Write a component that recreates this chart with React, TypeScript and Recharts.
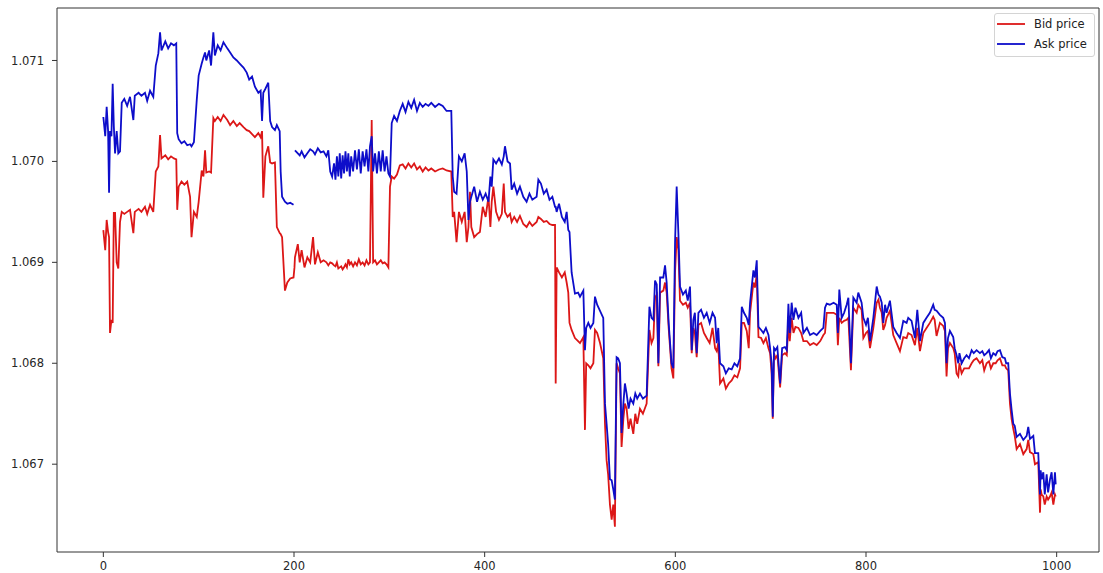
import { LineChart, Line, XAxis, YAxis, Legend, ReferenceLine } from 'recharts';

// tick index of each quote
const tickIndex = [
  0, 2, 3.5, 5, 6, 7, 8.5, 9.8, 11, 12.3,
  14, 15.7, 17.5, 19.3, 22, 25, 28, 31.5, 33, 37,
  40, 43.7, 46, 49, 52.4, 55, 57.7, 59.5, 61, 65,
  68, 71, 74, 76.5, 77.5, 79, 82, 85, 88, 91,
  92.5, 95, 98, 100, 103.2, 105, 106.7, 108, 111, 113,
  115.4, 117, 120, 123, 126, 130, 133, 136.4, 140, 143,
  147, 150.4, 153, 156, 159, 162.6, 165, 166.5, 167.8, 170,
  173, 175, 177, 180, 182, 185, 186, 187.5, 190.5, 193,
  196, 199.5, 200.5,
  201, 204, 206, 208, 211, 214, 217, 220, 222, 225,
  228, 231, 234, 236, 238, 240, 242, 243.5, 245, 246.5,
  248, 249.5, 251, 252.5, 254, 255.5, 257, 258.5, 260, 262,
  264, 266, 268, 270, 272, 274, 276, 278, 279.7, 281.5,
  283, 285, 287, 289, 291, 293, 295, 297, 299, 300.7,
  302.5, 305, 308, 311, 314, 317, 320, 323, 326, 329,
  332, 335, 338, 341, 344, 348, 352, 356, 360, 365,
  366.5, 368, 370.5, 373, 376, 379, 381.2, 383, 384.6,
  386, 389, 392, 395, 398, 401, 404, 406, 407.4, 409.1,
  412, 415, 418, 420, 421.3, 424, 426.6, 428.3, 431, 434,
  437, 440.5, 444, 447, 450, 454.5, 456.3, 459, 462, 465,
  468, 471, 473.8, 474.5, 475.5, 478, 481, 484, 486, 487.7,
  489, 491.2, 494.7, 498, 500, 503.5, 505.2, 506.5, 508.7, 511,
  514, 515.7, 518, 521, 524.4, 526.2, 527.9, 529.5, 531.4, 533.2,
  534.9, 536.6, 538.4, 540, 541.9, 543.6, 545.5, 547.1, 548.9, 551,
  553, 555.9, 558, 560, 562.9, 566, 569.9,
  572.8, 575, 577, 578.7, 580.5, 582.2, 584, 587.4, 589.2, 590.9,
  593, 596, 597.9, 599.7, 601.4, 603.2, 604.9, 608, 611, 613,
  615.4, 617.2, 618.9, 620.5, 622.4, 624.2, 627, 630, 632.9, 636,
  639, 641.7, 643.4, 645, 646.9, 650.4, 653, 656, 659.1, 662,
  665, 667.9, 669.7, 672, 674.9, 677, 678.4, 681.9, 683.5, 685.4,
  687.2, 690, 692.4, 695, 697.7, 699.4, 701, 702.2, 703.5, 705,
  707, 709.9, 712, 715, 716.9, 718.6, 720, 722, 723.9, 726,
  729.1, 732, 734.3, 738, 741.3, 745, 748.3, 752, 755.3, 757,
  758.8, 762, 766, 769.3, 770.5,
  772, 774.5, 777, 779.7, 781.5, 784.2, 786.7, 790.2, 791.9, 795.4,
  797.2, 800, 802, 804.2, 807.7, 811.2, 813, 814.6, 816.5, 818.1,
  820, 821.6, 825.1, 828.6, 832.1, 835.6, 839.1, 842.6, 844.3, 847.8,
  851.3, 853.8, 856.6, 860.1, 863.5, 867, 870.5, 872, 874, 877.5,
  881, 882.8, 884.5, 886, 888, 891.5, 893, 895, 896.8, 898,
  900.3, 903, 905.5, 908, 910.8, 913, 916, 919.5, 922, 924,
  926.5, 929, 931, 933.5, 936, 938, 940.5, 943, 945.7, 947,
  949.2, 951, 952.7, 954.5, 956, 958, 961.5, 965, 968.5, 970.2,
  972, 975.5, 977.2, 980.7, 982.5, 983.2, 984.2, 986, 987.5, 989.5,
  991, 993, 994.7, 996.5, 998.2, 999,
];

// ask quotes (null = no quote, breaks the line)
const askPrice: (number | null)[] = [
  1.07044, 1.07025, 1.07054, 1.0703, 1.06969, 1.0703, 1.07025, 1.07077, 1.07035, 1.07008,
  1.0703, 1.07008, 1.0701, 1.07058, 1.07062, 1.07055, 1.07064, 1.07041, 1.07065, 1.07068,
  1.07065, 1.07068, 1.0706, 1.0707, 1.07064, 1.07095, 1.07107, 1.07128, 1.0711, 1.07119,
  1.07112, 1.07117, 1.07115, 1.07117, 1.07028, 1.07022, 1.07018, 1.0702, 1.07016, 1.07017,
  1.07015, 1.07019, 1.07061, 1.07085, 1.07097, 1.07103, 1.07108, 1.071, 1.0711, 1.07095,
  1.07128, 1.07105, 1.07115, 1.0711, 1.07118, 1.07112, 1.07108, 1.07103, 1.071, 1.07097,
  1.07093, 1.07088, 1.07081, 1.07084, 1.07074, 1.07068, 1.0707, 1.0704, 1.07068, 1.07072,
  1.07078, 1.0704, 1.07034, 1.07031, 1.07036, 1.0703, 1.0699, 1.06965, 1.0696, 1.06958,
  1.06959, 1.06957, null,
  1.07011, 1.07008, 1.07006, 1.0701, 1.07004, 1.07008, 1.07012, 1.0701, 1.07007, 1.07013,
  1.07009, 1.0701, 1.07005, 1.07011, 1.0699, 1.06985, 1.06998, 1.06982, 1.07005, 1.06985,
  1.07008, 1.06983, 1.07006, 1.06988, 1.0701, 1.0699, 1.07008, 1.06985, 1.07005, 1.0699,
  1.07011, 1.06992, 1.07012, 1.06988, 1.0701, 1.06995, 1.07012, 1.0699, 1.07015, 1.07025,
  1.0699, 1.07008, 1.06988, 1.0701, 1.0699, 1.07011, 1.0699, 1.07005, 1.06988, 1.06985,
  1.07038, 1.07045, 1.0704, 1.0705, 1.07057, 1.07049, 1.07059, 1.07053, 1.07061, 1.0705,
  1.07058, 1.07054, 1.07057, 1.07055, 1.07058, 1.07054, 1.07057, 1.07055, 1.0705, 1.0705,
  1.06985, 1.0697, 1.06968, 1.07005, 1.07, 1.07008, 1.0699, 1.06942, 1.0696,
  1.06965, 1.06975, 1.0696, 1.0697, 1.06962, 1.06968, 1.0696, 1.06985, 1.06975, 1.07002,
  1.06998, 1.07003, 1.06997, 1.07005, 1.07015, 1.07, 1.06998, 1.06972, 1.06978, 1.06968,
  1.06975, 1.06965, 1.0696, 1.06968, 1.06962, 1.06965, 1.06982, 1.06978, 1.06968, 1.06972,
  1.06962, 1.06965, 1.06955, 1.06955, 1.0695, 1.06958, 1.06945, 1.0694, 1.0695, 1.06932,
  1.0693, 1.0689, 1.06869, 1.0687, 1.06866, 1.06872, 1.06813, 1.06835, 1.0684, 1.06835,
  1.0684, 1.06866, 1.06858, 1.06852, 1.06845, 1.0676, 1.0674, 1.0672, 1.06685, 1.06684,
  1.06675, 1.06665, 1.06806, 1.06805, 1.068, 1.06731, 1.0676, 1.0678, 1.0677, 1.06755,
  1.06765, 1.0676, 1.0677, 1.06765, 1.0677, 1.06765, 1.06768,
  1.06856, 1.06845, 1.06843, 1.06882, 1.06878, 1.068, 1.06885, 1.06885, 1.06897, 1.0688,
  1.0684, 1.068, 1.06795, 1.0692, 1.06975, 1.06929, 1.06876, 1.06868, 1.06872, 1.06862,
  1.06876, 1.06813, 1.06843, 1.0685, 1.0681, 1.0685, 1.06853, 1.06845, 1.0685, 1.0684,
  1.0685, 1.06845, 1.0682, 1.06835, 1.068, 1.06797, 1.0679, 1.06795, 1.06794, 1.068,
  1.06797, 1.06805, 1.06856, 1.0685, 1.06845, 1.06838, 1.0686, 1.06892, 1.06885, 1.06902,
  1.06836, 1.06833, 1.0683, 1.06835, 1.06828, 1.06815, 1.068, 1.06747, 1.06815, 1.06813,
  1.06816, 1.0678, 1.06815, 1.06816, 1.06813, 1.06859, 1.0683, 1.0686, 1.06843, 1.06855,
  1.06845, 1.0685, 1.0683, 1.06835, 1.06828, 1.0683, 1.06828, 1.06832, 1.06835, 1.06855,
  1.06859, 1.06858, 1.0686, 1.06858, 1.0683,
  1.06873, 1.06845, 1.0685, 1.06858, 1.06865, 1.068, 1.06865, 1.0686, 1.0687, 1.0686,
  1.06845, 1.06838, 1.06845, 1.06822, 1.06845, 1.06876, 1.06868, 1.06866, 1.0686, 1.0684,
  1.06858, 1.0685, 1.06862, 1.06836, 1.0683, 1.06825, 1.06842, 1.0684, 1.06845, 1.06842,
  1.06825, 1.06853, 1.06822, 1.0684, 1.06845, 1.0685, 1.06858, 1.06853, 1.06852, 1.06848,
  1.06845, 1.0684, 1.068, 1.06825, 1.06832, 1.06826, 1.06815, 1.06808, 1.068, 1.0681,
  1.068, 1.06805, 1.06808, 1.06805, 1.06813, 1.0681, 1.06813, 1.0681, 1.06812, 1.06808,
  1.0681, 1.06813, 1.06805, 1.0681, 1.06808, 1.06812, 1.06813, 1.06806, 1.06805, 1.068,
  1.068, 1.0677, 1.06754, 1.0674, 1.06738, 1.06727, 1.0673, 1.06724, 1.06728, 1.06737,
  1.06725, 1.06728, 1.06711, 1.06711, 1.0667, 1.06694, 1.06685, 1.06692, 1.0667, 1.0669,
  1.06672, 1.06685, 1.06692, 1.0667, 1.06692, 1.0668,
];

// bid quotes
const bidPrice = [
  1.06932, 1.06912, 1.06942, 1.0693, 1.06925, 1.0683, 1.06843, 1.0684, 1.06949, 1.06949,
  1.069, 1.06894, 1.0694, 1.0695, 1.06948, 1.0695, 1.06952, 1.06929, 1.0695, 1.06953,
  1.0695, 1.06955, 1.06948, 1.06957, 1.0695, 1.0699, 1.06995, 1.07026, 1.07003, 1.07006,
  1.07002, 1.07005, 1.07003, 1.07002, 1.06952, 1.06975, 1.0698, 1.06977, 1.0698, 1.06965,
  1.06925, 1.0695, 1.06945, 1.0696, 1.06991, 1.06985, 1.07011, 1.06989, 1.0699, 1.06989,
  1.07043, 1.0704, 1.07044, 1.0704, 1.07046, 1.07041, 1.07036, 1.0704, 1.07035, 1.07038,
  1.07034, 1.07031, 1.0703, 1.07027, 1.07024, 1.07028, 1.07024, 1.0703, 1.06964, 1.07005,
  1.07015, 1.06999, 1.06998, 1.06999, 1.06935, 1.06929, 1.06928, 1.06925, 1.06872, 1.0688,
  1.06884, 1.06885, 1.06895,
  1.06905, 1.06918, 1.069, 1.06912, 1.06895, 1.06905, 1.069, 1.06925, 1.06898, 1.0691,
  1.069, 1.06902, 1.069, 1.06897, 1.069, 1.06899, 1.06897, 1.06896, 1.069, 1.06894,
  1.06895, 1.06896, 1.06893, 1.06895, 1.06898, 1.06895, 1.06903, 1.06898, 1.069, 1.06896,
  1.069, 1.06897, 1.06903, 1.06898, 1.069, 1.06897, 1.06902, 1.06898, 1.069, 1.07041,
  1.069, 1.06902, 1.06898, 1.069, 1.06902, 1.06899, 1.069, 1.06898, 1.06895, 1.06975,
  1.06985, 1.06983, 1.06987, 1.06996, 1.06997, 1.06993, 1.06998, 1.06994, 1.06998, 1.06992,
  1.06995, 1.0699, 1.06994, 1.06991, 1.06993, 1.0699, 1.06992, 1.06993, 1.06991, 1.0699,
  1.06945, 1.0695, 1.0692, 1.0695, 1.0694, 1.0695, 1.0692, 1.06935, 1.0697,
  1.06935, 1.06925, 1.06928, 1.0693, 1.06955, 1.06945, 1.06965, 1.06935, 1.0696, 1.06975,
  1.0695, 1.06942, 1.06948, 1.06978, 1.0695, 1.06945, 1.06948, 1.0694, 1.06945, 1.0694,
  1.06946, 1.06938, 1.06935, 1.0694, 1.06936, 1.0694, 1.06945, 1.06943, 1.0694, 1.06941,
  1.06938, 1.06937, 1.06937, 1.0678, 1.06895, 1.0689, 1.06885, 1.0689, 1.0688, 1.0687,
  1.0684, 1.06833, 1.06825, 1.06822, 1.0682, 1.06826, 1.06734, 1.068, 1.06798, 1.06795,
  1.068, 1.06833, 1.0683, 1.0682, 1.06805, 1.0674, 1.06704, 1.0669, 1.0666, 1.06645,
  1.0666, 1.06638, 1.068, 1.06795, 1.0679, 1.06717, 1.06745, 1.0676, 1.06755, 1.06735,
  1.06745, 1.0673, 1.0675, 1.0674, 1.06755, 1.0675, 1.0676,
  1.06833, 1.0682, 1.06825, 1.06865, 1.06868, 1.06797, 1.0687, 1.06872, 1.0688, 1.0687,
  1.06835, 1.06795, 1.06785, 1.0689, 1.06925, 1.06912, 1.06862, 1.06858, 1.0686, 1.06855,
  1.0686, 1.0681, 1.06835, 1.0683, 1.06806, 1.06838, 1.0684, 1.0683, 1.06825, 1.0682,
  1.06835, 1.06815, 1.06812, 1.0682, 1.0678, 1.06785, 1.06775, 1.0678, 1.06783, 1.06788,
  1.06786, 1.06795, 1.0684, 1.0684, 1.06832, 1.06815, 1.0685, 1.0688, 1.06875, 1.06888,
  1.06826, 1.06825, 1.0682, 1.06825, 1.06815, 1.0681, 1.0679, 1.06745, 1.0681, 1.06805,
  1.06808, 1.06776, 1.06808, 1.0681, 1.06808, 1.0684, 1.06822, 1.06845, 1.0683, 1.06836,
  1.06835, 1.0683, 1.06822, 1.06822, 1.06818, 1.0682, 1.06818, 1.06822, 1.06828, 1.0683,
  1.0685, 1.0685, 1.0685, 1.06848, 1.06818,
  1.06845, 1.0684, 1.06842, 1.06843, 1.06845, 1.06793, 1.06855, 1.0685, 1.06858, 1.06853,
  1.06825, 1.0683, 1.06832, 1.06815, 1.06835, 1.0686, 1.06863, 1.06855, 1.0685, 1.06833,
  1.06838, 1.06845, 1.06852, 1.06828, 1.0682, 1.06812, 1.06826, 1.06825, 1.0683, 1.06828,
  1.06818, 1.06835, 1.06812, 1.0683, 1.06835, 1.0684, 1.06846, 1.06843, 1.06827, 1.0684,
  1.06837, 1.06832, 1.06787, 1.06815, 1.0682, 1.06815, 1.0681, 1.0679, 1.06787, 1.068,
  1.0679, 1.06795, 1.06795, 1.06795, 1.068, 1.06803, 1.06805, 1.068, 1.06803, 1.06793,
  1.068, 1.06802, 1.06795, 1.068, 1.068, 1.06803, 1.06805, 1.06798, 1.06798, 1.06795,
  1.06793, 1.0676, 1.06745, 1.06735, 1.06728, 1.06715, 1.0672, 1.0671, 1.06715, 1.06724,
  1.06712, 1.0671, 1.067, 1.06702, 1.06652, 1.06675, 1.0667, 1.06668, 1.0666, 1.06668,
  1.06665, 1.06668, 1.06672, 1.0666, 1.0667, 1.06668,
];

const xTicks = [0, 200, 400, 600, 800, 1000];
const yTicks = [1.067, 1.068, 1.069, 1.07, 1.071];

const X_DOMAIN: [number, number] = [-48.6, 1044.4];
const Y_DOMAIN: [number, number] = [1.06613, 1.07152];

const BID_COLOR = '#dc1717';
const ASK_COLOR = '#0d0dca';
const AXIS_COLOR = '#333';
const FONT = '"DejaVu Sans", sans-serif';
const LINE_WIDTH = 1.8;

const rows = tickIndex.map((t, i) => ({
  t,
  bid: bidPrice[i],
  ask: askPrice[i],
}));

const legendItems = [
  { name: 'Bid price', color: BID_COLOR },
  { name: 'Ask price', color: ASK_COLOR },
];

const QuoteLegend = () => (
  <div
    style={{
      border: '1px solid #d4d4d4',
      borderRadius: 3,
      background: '#fff',
      padding: '0 7px 2px 2px',
      fontFamily: FONT,
      fontSize: 11.5,
      color: '#222',
    }}
  >
    {legendItems.map((item) => (
      <div
        key={item.name}
        style={{ display: 'flex', alignItems: 'center', height: 20 }}
      >
        <svg width={28} height={4} style={{ marginRight: 9 }}>
          <line x1={0} y1={2} x2={28} y2={2} stroke={item.color} strokeWidth={LINE_WIDTH} />
        </svg>
        <span>{item.name}</span>
      </div>
    ))}
  </div>
);

export default function App() {
  return (
    <div style={{ position: 'absolute', left: 0, top: 0, width: 1103, height: 573, background: '#fff' }}>
      <LineChart
        width={1103}
        height={573}
        data={rows}
        margin={{ top: 8, right: 4, bottom: 0, left: 0 }}
        style={{ fontFamily: FONT }}
      >
        <XAxis
          dataKey='t'
          type='number'
          domain={X_DOMAIN}
          ticks={xTicks}
          allowDataOverflow
          height={21}
          tickSize={5}
          tickMargin={5}
          stroke={AXIS_COLOR}
          tick={{ fill: '#262626', fontSize: 11.5 }}
        />
        <YAxis
          type='number'
          domain={Y_DOMAIN}
          ticks={yTicks}
          allowDataOverflow
          width={57}
          tickSize={5}
          tickMargin={8}
          stroke={AXIS_COLOR}
          tick={{ fill: '#262626', fontSize: 11.5 }}
          tickFormatter={(v: number) => v.toFixed(3)}
        />
        {/* close the frame on the top and right */}
        <ReferenceLine y={Y_DOMAIN[1]} stroke={AXIS_COLOR} ifOverflow='visible' />
        <ReferenceLine x={X_DOMAIN[1]} stroke={AXIS_COLOR} ifOverflow='visible' />
        <Line
          dataKey='bid'
          name='Bid price'
          type='linear'
          stroke={BID_COLOR}
          strokeWidth={LINE_WIDTH}
          dot={false}
          activeDot={false}
          isAnimationActive={false}
        />
        <Line
          dataKey='ask'
          name='Ask price'
          type='linear'
          stroke={ASK_COLOR}
          strokeWidth={LINE_WIDTH}
          dot={false}
          activeDot={false}
          connectNulls={false}
          isAnimationActive={false}
        />
        <Legend
          layout='vertical'
          align='center'
          verticalAlign='middle'
          content={<QuoteLegend />}
          wrapperStyle={{ left: 994, top: 13, width: 'auto', height: 'auto' }}
        />
      </LineChart>
    </div>
  );
}
